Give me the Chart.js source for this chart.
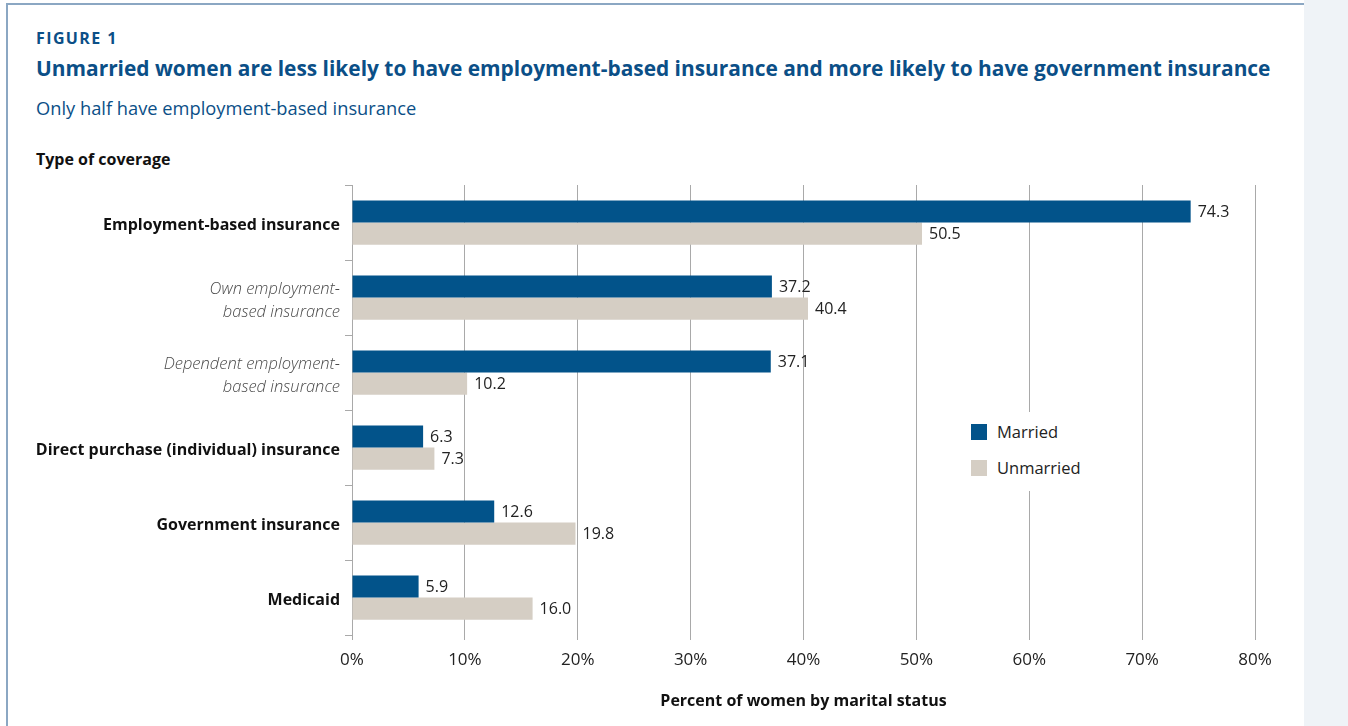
<!DOCTYPE html>
<html>
<head>
<meta charset="utf-8">
<script src="https://cdn.jsdelivr.net/npm/chart.js@4.4.0/dist/chart.umd.min.js"></script>
<style>
    html, body { margin: 0; padding: 0; background: #fff; }
    body { width: 1348px; height: 726px; position: relative; overflow: hidden; font-family: "Open Sans", "Noto Sans", sans-serif; }
    #moldura { position: absolute; left: 6px; top: 3px; width: 1297px; height: 730px; border-top: 2px solid #8ba7c3; border-left: 2px solid #8ba7c3; }
    #lateral { position: absolute; left: 1304px; top: 0; width: 44px; height: 726px; background: #eff3f7; }
    #figura { position: absolute; left: 36px; top: 27px; font-size: 16px; font-weight: 700; letter-spacing: 1.4px; color: #0b4f87; }
    #titulo { position: absolute; left: 36px; top: 54px; font-size: 20.9px; font-weight: 700; color: #0b4f87; white-space: nowrap; }
    #subtitulo { position: absolute; left: 36px; top: 95px; font-size: 18.3px; color: #0b4f87; white-space: nowrap; }
    #tipo { position: absolute; left: 36px; top: 148px; font-size: 16px; font-weight: 700; color: #111; }
    #grafico-wrap { position: absolute; left: 0; top: 170px; width: 1300px; height: 550px; }
    #legenda { position: absolute; left: 962px; top: 412px; width: 130px; height: 79px; background: #fff; }
    .item { position: absolute; left: 9px; font-size: 16.5px; color: #222; white-space: nowrap; }
    .item span { display: inline-block; width: 16px; height: 16px; vertical-align: -2px; margin-right: 10px; }
</style>
</head>
<body>
<div id="moldura"></div>
<div id="lateral"></div>
<div id="figura">FIGURE 1</div>
<div id="titulo">Unmarried women are less likely to have employment-based insurance and more likely to have government insurance</div>
<div id="subtitulo">Only half have employment-based insurance</div>
<div id="tipo">Type of coverage</div>
<div id="grafico-wrap"><canvas id="grafico-cobertura"></canvas></div>
<div id="legenda">
    <div class="item" style="top:8px"><span style="background:#02538a"></span>Married</div>
    <div class="item" style="top:44px"><span style="background:#d5cec4"></span>Unmarried</div>
</div>
<script>
// Tipos de cobertura (rotulos do eixo Y)
const categorias = [
    'Employment-based insurance',
    ['Own employment-', 'based insurance'],
    ['Dependent employment-', 'based insurance'],
    'Direct purchase (individual) insurance',
    'Government insurance',
    'Medicaid'
];
const subcategoria = [false, true, true, false, false, false];

const casadas = [74.3, 37.2, 37.1, 6.3, 12.6, 5.9];
const naoCasadas = [50.5, 40.4, 10.2, 7.3, 19.8, 16.0];

const ticksX = [0, 10, 20, 30, 40, 50, 60, 70, 80];

const fonte = '"Open Sans", "Noto Sans", sans-serif';

// Rotulos de valor ao lado das barras
const rotulosValores = {
    id: 'rotulosValores',
    afterDatasetsDraw(chart) {
        const ctx = chart.ctx;
        ctx.save();
        ctx.font = `16px ${fonte}`;
        ctx.fillStyle = '#222';
        ctx.textBaseline = 'middle';
        ctx.textAlign = 'left';
        chart.data.datasets.forEach((ds, i) => {
            const meta = chart.getDatasetMeta(i);
            meta.data.forEach((bar, j) => {
                ctx.fillText(ds.data[j].toFixed(1), bar.x + 7, bar.y + 1);
            });
        });
        ctx.restore();
    }
};

const ctx = document.getElementById('grafico-cobertura').getContext('2d');
new Chart(ctx, {
    type: 'bar',
    data: {
        labels: categorias,
        datasets: [
            { label: 'Married', data: casadas, backgroundColor: '#02538a', categoryPercentage: 0.59, barPercentage: 1.0 },
            { label: 'Unmarried', data: naoCasadas, backgroundColor: '#d5cec4', categoryPercentage: 0.59, barPercentage: 1.0 }
        ]
    },
    options: {
        indexAxis: 'y',
        responsive: true,
        maintainAspectRatio: false,
        animation: false,
        layout: { padding: { top: 15, right: 45, bottom: 0, left: 0 } },
        plugins: { legend: { display: false }, tooltip: { enabled: false } },
        scales: {
            x: {
                min: 0,
                max: 80,
                afterBuildTicks: (scale) => { scale.ticks = ticksX.map(v => ({ value: v })); },
                afterFit: (scale) => { scale.height = 85; },
                grid: { color: '#a9a9a9', lineWidth: 1, tickLength: 5, drawTicks: true },
                border: { display: false },
                ticks: {
                    callback: (v) => v + '%',
                    font: { family: fonte, size: 17 },
                    color: '#222',
                    padding: 10
                },
                title: {
                    display: true,
                    text: 'Percent of women by marital status',
                    font: { family: fonte, size: 16, weight: 'bold' },
                    color: '#111',
                    padding: { top: 4, bottom: 9 }
                }
            },
            y: {
                afterFit: (scale) => { scale.width = 352; },
                grid: { offset: true, drawOnChartArea: false, drawTicks: true, tickLength: 7, color: '#a9a9a9' },
                border: { display: true, color: '#a9a9a9' },
                ticks: {
                    padding: 5,
                    labelOffset: 3,
                    font: (c) => subcategoria[c.index]
                        ? { family: fonte, size: 16.5, style: 'italic', weight: '300', lineHeight: 1.4 }
                        : { family: fonte, size: 16, weight: 'bold' },
                    color: (c) => subcategoria[c.index] ? '#4a4a4a' : '#111'
                }
            }
        }
    },
    plugins: [rotulosValores]
});
</script>
</body>
</html>
